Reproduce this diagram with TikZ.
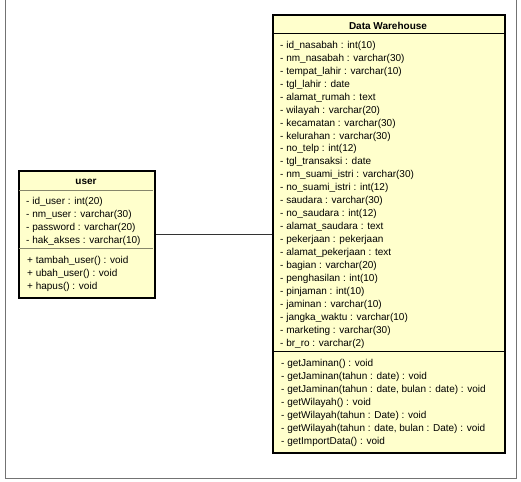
\documentclass[tikz,border=0pt]{standalone}
\usepackage{fontspec}
\setmainfont{Liberation Sans}
\usetikzlibrary{positioning}
\definecolor{umlyellow}{HTML}{FFFFCC}
\tikzset{
	classbox/.style = {
		rectangle,
		draw=black,
		line width=2pt,
		fill=umlyellow,
		inner sep=0pt,
		anchor=north west
	},
	classname/.style = {
		inner sep=0pt,
		font=\fontsize{10}{12}\selectfont\bfseries
	},
	members/.style = {
		align=left,
		anchor=north west,
		inner sep=0pt,
		font=\fontsize{10}{12.94}\selectfont
	},
	divider/.style = {
		draw=black,
		line width=0.8pt
	},
	divider_light/.style = {
		draw=black!25!umlyellow!70!black,
		line width=0.8pt
	},
	frame/.style = {
		draw=black!55,
		line width=0.8pt
	},
	assoc/.style = {
		draw=black!80,
		line width=0.8pt
	}
}

\begin{document}
\begin{tikzpicture}[x=1pt, y=-1pt]
\useasboundingbox (0,0) rectangle (521,481);
\draw [frame] (5,0) -- (5,478) -- (516,478) -- (516,0);

% class user
\node [classbox, minimum width=136pt, minimum height=127pt] (user) at (18,170) {};
\node [classname] (user_name) at (86,182) {user};
\draw [divider_light] ([xshift=1pt]user.north west) ++(0,20) -- ++(134,0);
\draw [divider_light] ([xshift=1pt]user.north west) ++(0,78) -- ++(134,0);
\node [members] (user_attr) at (26,197) {%
	- id\_user : int(20)\\
	- nm\_user : varchar(30)\\
	- password : varchar(20)\\
	- hak\_akses : varchar(10)};
\node [members] (user_ops) at (27,256.5) {%
	+ tambah\_user() : void\\
	+ ubah\_user() : void\\
	+ hapus() : void};

% class Data Warehouse
\node [classbox, minimum width=232pt, minimum height=438pt] (dw) at (272,14) {};
\node [classname] (dw_name) at (388,26) {Data Warehouse};
\draw [divider] (dw.north west) ++(0,19) -- ++(232,0);
\draw [divider] (dw.north west) ++(0,337) -- ++(232,0);
\node [members] (dw_attr) at (280,41) {%
	- id\_nasabah : int(10)\\
	- nm\_nasabah : varchar(30)\\
	- tempat\_lahir : varchar(10)\\
	- tgl\_lahir : date\\
	- alamat\_rumah : text\\
	- wilayah : varchar(20)\\
	- kecamatan : varchar(30)\\
	- kelurahan : varchar(30)\\
	- no\_telp : int(12)\\
	- tgl\_transaksi : date\\
	- nm\_suami\_istri : varchar(30)\\
	- no\_suami\_istri : int(12)\\
	- saudara : varchar(30)\\
	- no\_saudara : int(12)\\
	- alamat\_saudara : text\\
	- pekerjaan : pekerjaan\\
	- alamat\_pekerjaan : text\\
	- bagian : varchar(20)\\
	- penghasilan : int(10)\\
	- pinjaman : int(10)\\
	- jaminan : varchar(10)\\
	- jangka\_waktu : varchar(10)\\
	- marketing : varchar(30)\\
	- br\_ro : varchar(2)};
\node [members] (dw_ops) at (281,359.5) {%
	- getJaminan() : void\\
	- getJaminan(tahun : date) : void\\
	- getJaminan(tahun : date, bulan : date) : void\\
	- getWilayah() : void\\
	- getWilayah(tahun : Date) : void\\
	- getWilayah(tahun : date, bulan : Date) : void\\
	- getImportData() : void};

% association
\draw [assoc] (user.east) -- (user.east -| dw.west);
\end{tikzpicture}
\end{document}
